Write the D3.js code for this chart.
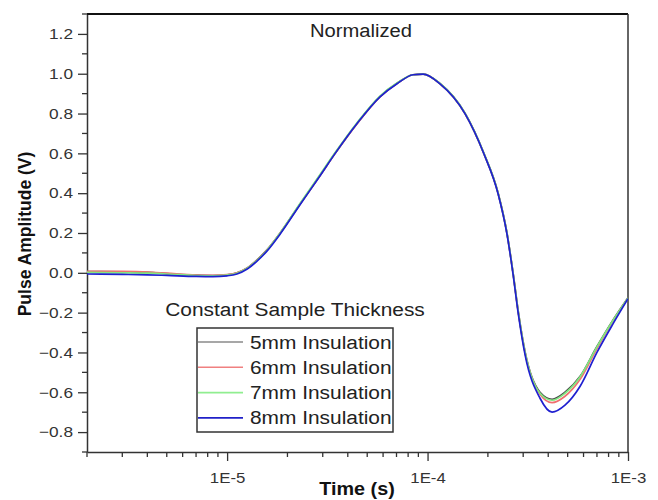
<!DOCTYPE html>
<html>
<head>
<meta charset="utf-8">
<script src="https://cdn.jsdelivr.net/npm/d3@7/dist/d3.min.js"></script>
<style>
  html, body { margin: 0; padding: 0; background: #fff; }
  svg { display: block; font-family: "Liberation Sans", Arial, sans-serif; }
</style>
</head>
<body>
<svg id="chart" width="658" height="500"></svg>
<script>
// ---- data ----
const time = [2e-6, 3e-6, 4e-6, 5e-6, 7e-6, 8.5e-6, 1e-5, 1.12e-5, 1.26e-5, 1.41e-5, 1.58e-5, 1.84e-5, 2.31e-5, 2.91e-5, 3.46e-5, 4.45e-5, 5.79e-5, 7.04e-5, 8.47e-5, 9.51e-5, 1.15e-4, 1.54e-4, 1.91e-4, 2.25e-4, 2.49e-4, 2.67e-4, 2.84e-4, 3.07e-4, 3.64e-4, 4.18e-4, 4.85e-4, 5.77e-4, 7.0e-4, 8.32e-4, 1e-3];
const mm5 = [0.006, 0.005, 0.002, -0.004, -0.012, -0.014, -0.01, 0.0, 0.025, 0.065, 0.115, 0.2, 0.345, 0.49, 0.6, 0.75, 0.885, 0.952, 0.995, 0.998, 0.952, 0.8, 0.6, 0.4, 0.2, 0.0, -0.2, -0.4, -0.6, -0.635, -0.6, -0.52, -0.37, -0.245, -0.125];
const mm6 = [0.008, 0.007, 0.004, -0.002, -0.011, -0.013, -0.009, 0.0, 0.024, 0.064, 0.114, 0.2, 0.344, 0.489, 0.6, 0.749, 0.884, 0.951, 0.995, 0.998, 0.95, 0.798, 0.598, 0.398, 0.198, -0.002, -0.203, -0.405, -0.61, -0.652, -0.62, -0.535, -0.38, -0.25, -0.127];
const mm7 = [0.002, 0.0, -0.002, -0.006, -0.014, -0.015, -0.011, -0.002, 0.023, 0.063, 0.113, 0.2, 0.348, 0.494, 0.604, 0.754, 0.888, 0.953, 0.995, 0.998, 0.952, 0.8, 0.6, 0.4, 0.2, 0.0, -0.2, -0.402, -0.605, -0.64, -0.605, -0.522, -0.372, -0.247, -0.126];
const mm8 = [-0.006, -0.008, -0.01, -0.013, -0.018, -0.019, -0.015, -0.006, 0.019, 0.059, 0.109, 0.195, 0.342, 0.488, 0.6, 0.75, 0.884, 0.95, 0.995, 0.998, 0.95, 0.798, 0.598, 0.396, 0.195, -0.006, -0.21, -0.415, -0.63, -0.7, -0.665, -0.57, -0.4, -0.265, -0.13];
const seriesNames = ["5mm Insulation", "6mm Insulation", "7mm Insulation", "8mm Insulation"];
const seriesColors = ["#4a4a4a", "#f07070", "#80e880", "#1f1fd0"];
const legendColors = ["#8a8a8a", "#f08080", "#90ee90", "#2020c8"];
const xTickValues = [1e-5, 1e-4, 1e-3];
const xTickLabels = ["1E-5", "1E-4", "1E-3"];
const yTickValues = [-0.8, -0.6, -0.4, -0.2, 0.0, 0.2, 0.4, 0.6, 0.8, 1.0, 1.2];

// ---- helpers ----
function stretch(sel, f) {
  sel.each(function () {
    const len = this.getComputedTextLength();
    d3.select(this).attr("textLength", len * f).attr("lengthAdjust", "spacingAndGlyphs");
  });
}

// ---- layout ----
const svg = d3.select("#chart");
const L = 87, R = 628, T = 14, B = 452;
const x = d3.scaleLog().domain([2e-6, 1e-3]).range([L, R]);
const y = d3.scaleLinear().domain([-0.9, 1.3]).range([B, T]);

const xMinor = [];
for (let e = -6; e <= -4; e++) for (let m = 2; m <= 9; m++) {
  const v = m * Math.pow(10, e);
  if (v >= 2e-6 && v <= 1e-3) xMinor.push(v);
}
const yMinor = d3.range(-0.9, 1.31, 0.1).map(v => +v.toFixed(2)).filter(v => !yTickValues.some(t => Math.abs(t - v) < 1e-6));

const axisColor = "#333";
// x axis
const gx = svg.append("g").attr("transform", `translate(0,${B})`)
  .call(d3.axisBottom(x).tickValues(xTickValues).tickFormat((d, i) => xTickLabels[i]).tickSize(9).tickSizeOuter(0).tickPadding(11));
gx.append("g").selectAll("line").data(xMinor).join("line")
  .attr("x1", d => x(d)).attr("x2", d => x(d)).attr("y1", 0).attr("y2", 5).attr("stroke", axisColor).attr("stroke-width", 1.3);
gx.selectAll(".tick text").attr("font-size", 15).attr("fill", "#333").attr("font-family", "Liberation Sans, Arial, sans-serif");
gx.selectAll(".tick line").attr("stroke", axisColor).attr("stroke-width", 1.3);
gx.select(".domain").attr("stroke", axisColor).attr("stroke-width", 1.5);
stretch(gx.selectAll(".tick text"), 1.12);

// y axis
const gy = svg.append("g").attr("transform", `translate(${L},0)`)
  .call(d3.axisLeft(y).tickValues(yTickValues).tickFormat(d3.format(".1f")).tickSize(9).tickSizeOuter(0).tickPadding(5));
gy.append("g").selectAll("line").data(yMinor).join("line")
  .attr("x1", 0).attr("x2", -5).attr("y1", d => y(d)).attr("y2", d => y(d)).attr("stroke", axisColor).attr("stroke-width", 1.3);
gy.selectAll(".tick text").attr("font-size", 15).attr("fill", "#333").attr("font-family", "Liberation Sans, Arial, sans-serif");
gy.selectAll(".tick line").attr("stroke", axisColor).attr("stroke-width", 1.3);
gy.select(".domain").attr("stroke", axisColor).attr("stroke-width", 1.5);
stretch(gy.selectAll(".tick text"), 1.15);

// top and right frame
svg.append("line").attr("x1", L).attr("x2", R).attr("y1", T).attr("y2", T).attr("stroke", "#111").attr("stroke-width", 2);
svg.append("line").attr("x1", R).attr("x2", R).attr("y1", T).attr("y2", B).attr("stroke", axisColor).attr("stroke-width", 1.5);

// lines
const allSeries = [mm5, mm6, mm7, mm8];
const line = d3.line().x((d, i) => x(time[i])).y(d => y(d)).curve(d3.curveMonotoneX);
svg.append("clipPath").attr("id", "clip").append("rect").attr("x", L).attr("y", T).attr("width", R - L).attr("height", B - T);
const gl = svg.append("g").attr("clip-path", "url(#clip)");
allSeries.forEach((s, k) => {
  gl.append("path").datum(s).attr("d", line).attr("fill", "none")
    .attr("stroke", seriesColors[k]).attr("stroke-width", 1.7).attr("stroke-linejoin", "round");
});

// title inside
const title = svg.append("text").attr("x", 361).attr("y", 37).attr("text-anchor", "middle")
  .attr("font-size", 18).attr("fill", "#222").text("Normalized");
stretch(title, 1.12);

// axis labels
const xl = svg.append("text").attr("x", 357).attr("y", 495).attr("text-anchor", "middle")
  .attr("font-size", 18).attr("font-weight", "bold").attr("fill", "#111").text("Time (s)");
stretch(xl, 1.1);
svg.append("text").attr("transform", `translate(31,${(T + B) / 2 + 1}) rotate(-90)`).attr("text-anchor", "middle")
  .attr("font-size", 17.5).attr("font-weight", "bold").attr("fill", "#111").text("Pulse Amplitude (V)");

// legend
const lt = svg.append("text").attr("x", 295).attr("y", 316).attr("text-anchor", "middle")
  .attr("font-size", 18).attr("fill", "#222").text("Constant Sample Thickness");
stretch(lt, 1.16);
const lg = svg.append("g");
lg.append("rect").attr("x", 197).attr("y", 328).attr("width", 196).attr("height", 104)
  .attr("fill", "#fff").attr("stroke", "#333").attr("stroke-width", 1.5);
seriesNames.forEach((n, k) => {
  const yy = 342 + k * 25.3;
  lg.append("line").attr("x1", 198).attr("x2", 243).attr("y1", yy).attr("y2", yy)
    .attr("stroke", legendColors[k]).attr("stroke-width", 1.6);
  const t = lg.append("text").attr("x", 250).attr("y", yy + 6.5).attr("font-size", 18).attr("fill", "#222").text(n);
  stretch(t, 1.16);
});
</script>
</body>
</html>
